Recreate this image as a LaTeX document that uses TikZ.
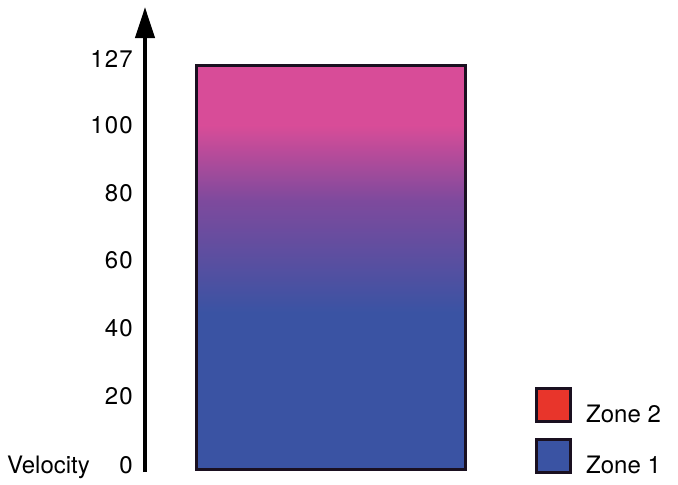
\documentclass[tikz,border=0pt]{standalone}
\usepackage{fontspec}
\setmainfont{TeX Gyre Heros}
\newfontfamily\tickfont[LetterSpace=5]{TeX Gyre Heros}
\usetikzlibrary{arrows.meta}
\definecolor{zpink}{HTML}{D84C98}
\definecolor{zpurple}{HTML}{7E4A9D}
\definecolor{zblue}{HTML}{3A53A3}
\definecolor{zred}{HTML}{E8352B}
\definecolor{zedge}{HTML}{1A1020}
\begin{document}
\begin{tikzpicture}[x=1pt,y=-1pt,
  lbl/.style={font=\tickfont\fontsize{24}{27}\selectfont, inner sep=0pt, anchor=base east},
  legbox/.style={draw=zedge, line width=3pt, minimum width=34pt, minimum height=33pt, inner sep=0pt},
  legtxt/.style={font=\fontsize{24}{27}\selectfont, inner sep=0pt, anchor=base west}]
\useasboundingbox (0,0) rectangle (678,485);
% axis
\coordinate (axb) at (145,472);
\coordinate (axt) at (145,7);
\draw[line width=4pt, -{Triangle[width=19pt,length=31pt]}] (axb) -- (axt);
% tick labels
\node[lbl] (t127) at (133,67) {127};
\node[lbl] (t100) at (133,133) {100};
\node[lbl] (t80) at (133,201) {80};
\node[lbl] (t60) at (133,268) {60};
\node[lbl] (t40) at (133,336) {40};
\node[lbl] (t20) at (133,404) {20};
\node[lbl] (t0) at (133,473) {0};
\node[legtxt] (vel) at (7,473) {Velocity};
% velocity bar
\fill[zpink] (196.5,65.5) rectangle (465.5,126);
\shade[top color=zpink, bottom color=zpurple] (196.5,125.5) rectangle (465.5,200.5);
\shade[top color=zpurple, bottom color=zblue] (196.5,200) rectangle (465.5,312.5);
\fill[zblue] (196.5,312) rectangle (465.5,469.5);
\draw[zedge, line width=3pt] (196.5,65.5) rectangle (465.5,469.5);
% legend
\node[legbox, fill=zred] (z2box) at (553.5,405) {};
\node[legbox, fill=zblue] (z1box) at (553.5,455.5) {};
\node[legtxt] (z2) at (586,422) {Zone 2};
\node[legtxt] (z1) at (586,473) {Zone 1};
\end{tikzpicture}
\end{document}
